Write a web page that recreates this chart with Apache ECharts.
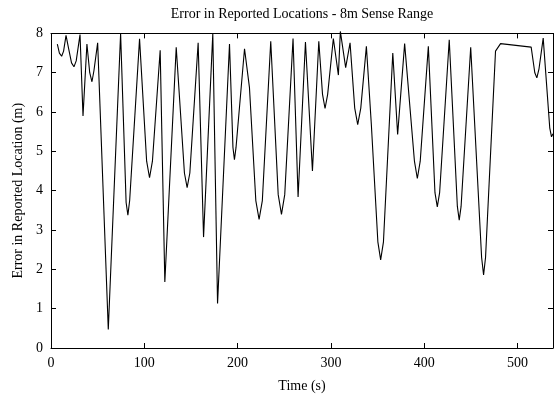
<!DOCTYPE html>
<html>
<head>
<meta charset="utf-8">
<script src="https://cdn.jsdelivr.net/npm/echarts@6/dist/echarts.min.js"></script>
<style>
html,body{margin:0;padding:0;background:#fff;}
#chart{width:554px;height:398px;}
</style>
</head>
<body>
<div id="chart"></div>
<script>
var titleText = 'Error in Reported Locations - 8m Sense Range';
var xName = 'Time (s)';
var yName = 'Error in Reported Location (m)';
var xTicks = [0, 100, 200, 300, 400, 500];
var yTicks = [0, 1, 2, 3, 4, 5, 6, 7, 8];

var timeS = [
  6.8, 9, 11.4, 13.5, 16.1, 19, 22, 24.6, 27, 31.1, 34.3, 38.5, 41.5, 43.9, 46, 50,
  61.4, 74.6, 80.5, 82.4, 84.3, 94.9, 102.5, 105.6, 108.7, 117, 122, 134.2,
  143, 145.9, 148.8, 157.7, 163.5, 173.4, 178.5, 191.3, 195, 196.6, 198.3,
  207.4, 212.7, 219.5, 223, 226.5, 235.5, 243.5, 247, 250.5, 259.4, 264.8,
  272.7, 280.2, 287, 291, 293.7, 296.5, 302.6, 308, 310.1, 315.8, 320.5,
  325.5, 328.7, 332, 338, 343.3, 350.3, 353.3, 356.3, 366.3, 371.5, 379,
  389.5, 392.6, 395.7, 404.4, 411.5, 414, 416.5, 426.8, 435.5, 437.5, 439.5,
  449.8, 461.5, 463.6, 465.7, 476.4, 481.8, 514.6, 518.5, 520.7, 523, 527.5,
  534.5, 536.4, 538
];
var errorM = [
  7.73, 7.5, 7.42, 7.55, 7.95, 7.6, 7.25, 7.15, 7.3, 7.97, 5.9, 7.73, 7.0, 6.77, 7.05, 7.76,
  0.47, 8.0, 3.7, 3.38, 3.75, 7.86, 4.75, 4.33, 4.75, 7.57, 1.68, 7.65,
  4.45, 4.08, 4.45, 7.76, 2.82, 8.0, 1.13, 7.73, 5.1, 4.79, 5.1,
  7.61, 6.62, 3.75, 3.27, 3.75, 7.8, 3.9, 3.4, 3.9, 7.87, 3.84,
  7.78, 4.5, 7.8, 6.45, 6.09, 6.45, 7.87, 6.94, 8.05, 7.13, 7.76,
  6.1, 5.68, 6.1, 7.67, 5.69, 2.7, 2.24, 2.7, 7.5, 5.43, 7.74,
  4.75, 4.31, 4.75, 7.67, 3.95, 3.59, 3.95, 7.84, 3.6, 3.25, 3.6,
  7.65, 2.3, 1.86, 2.3, 7.55, 7.74, 7.65, 7.0, 6.87, 7.1, 7.88,
  5.6, 5.37, 5.45
];

var points = timeS.map(function (t, i) { return [t, errorM[i]]; });

var font = 'Liberation Serif, Times New Roman, serif';
var fmtX = function (v) { return xTicks.indexOf(v) >= 0 ? String(v) : ''; };
var fmtY = function (v) { return yTicks.indexOf(v) >= 0 ? String(v) : ''; };

var axisLineStyle = { show: true, onZero: false, lineStyle: { color: '#000', width: 1 } };
var tickStyle = { show: true, inside: true, length: 5, lineStyle: { color: '#000', width: 1 } };

var chart = echarts.init(document.getElementById('chart'), null, { renderer: 'canvas' });
chart.setOption({
  animation: false,
  backgroundColor: '#fff',
  title: {
    text: titleText,
    left: 302,
    top: 7,
    padding: 0,
    textAlign: 'center',
    textStyle: { fontFamily: font, fontSize: 14, fontWeight: 'normal', color: '#000' }
  },
  grid: { left: 51, right: 1, top: 33.4, bottom: 48, containLabel: false },
  xAxis: [
    {
      type: 'value', position: 'bottom', min: 0, max: 538, interval: 100,
      name: xName, nameLocation: 'middle', nameGap: 31,
      nameTextStyle: { fontFamily: font, fontSize: 14, color: '#000' },
      axisLine: axisLineStyle, axisTick: tickStyle,
      axisLabel: { show: true, margin: 8, formatter: fmtX, showMaxLabel: false,
        fontFamily: font, fontSize: 14, color: '#000' },
      splitLine: { show: false }
    },
    {
      type: 'value', position: 'top', min: 0, max: 538, interval: 100,
      axisLine: axisLineStyle, axisTick: tickStyle,
      axisLabel: { show: false }, splitLine: { show: false }
    }
  ],
  yAxis: [
    {
      type: 'value', position: 'left', min: 0, max: 8, interval: 1,
      name: yName, nameLocation: 'middle', nameGap: 26, nameRotate: 90,
      nameTextStyle: { fontFamily: font, fontSize: 14, color: '#000' },
      axisLine: axisLineStyle, axisTick: tickStyle,
      axisLabel: { show: true, margin: 8, formatter: fmtY,
        fontFamily: font, fontSize: 14, color: '#000' },
      splitLine: { show: false }
    },
    {
      type: 'value', position: 'right', min: 0, max: 8, interval: 1,
      axisLine: axisLineStyle, axisTick: tickStyle,
      axisLabel: { show: false }, splitLine: { show: false }
    }
  ],
  series: [
    {
      type: 'line',
      xAxisIndex: 0, yAxisIndex: 0,
      data: points,
      showSymbol: false,
      symbol: 'none',
      clip: false,
      lineStyle: { color: '#000', width: 1.1 }
    }
  ]
});
</script>
</body>
</html>
